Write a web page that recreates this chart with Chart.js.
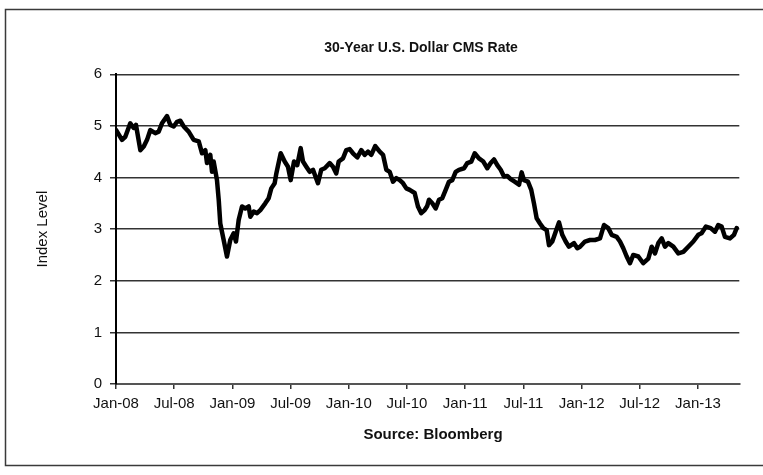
<!DOCTYPE html>
<html><head><meta charset="utf-8">
<script src="https://cdn.jsdelivr.net/npm/chart.js@4"></script>
<style>html,body{margin:0;padding:0;background:#fff;} canvas{display:block}</style>
</head><body>
<canvas id="c" width="763" height="475"></canvas>
<script>
const chartTitle = '30-Year U.S. Dollar CMS Rate';
const yAxisTitle = 'Index Level';
const sourceNote = 'Source: Bloomberg';
const xTickLabels = ['Jan-08','Jul-08','Jan-09','Jul-09','Jan-10','Jul-10','Jan-11','Jul-11','Jan-12','Jul-12','Jan-13'];
const yTickValues = [0,1,2,3,4,5,6];
const xEndMonth = 64.26;
// months elapsed since 1 Jan 2008
const monthsSinceJan08 = [
 0.00,0.62,0.96,1.47,1.82,2.06,2.51,2.86,3.20,3.54,4.05,4.40,4.74,5.26,5.60,5.95,6.29,6.63,6.98,7.49,
 8.01,8.53,8.87,9.21,9.38,9.72,9.90,10.07,10.41,10.59,10.75,11.10,11.44,11.78,12.13,12.37,12.65,12.99,13.33,13.68,
 13.85,14.20,14.54,14.88,15.39,15.74,16.01,16.36,16.53,16.98,17.39,17.73,18.01,18.35,18.69,19.04,19.28,19.62,19.97,20.31,
 20.82,21.16,21.52,22.03,22.37,22.71,22.96,23.40,23.74,24.09,24.43,24.88,25.29,25.64,25.98,26.32,26.73,27.19,27.53,27.87,
 28.22,28.56,28.90,29.25,29.59,29.93,30.28,30.79,31.13,31.47,31.82,32.09,32.27,32.61,32.96,33.30,33.64,33.99,34.33,34.67,
 35.02,35.36,35.88,36.22,36.63,36.98,37.42,37.87,38.28,38.63,38.97,39.31,39.66,40.00,40.34,40.69,41.10,41.55,41.82,42.06,
 42.47,42.81,43.09,43.37,43.71,44.05,44.40,44.64,44.98,45.33,45.67,46.01,46.36,46.70,47.22,47.56,47.84,48.35,48.87,49.38,
 49.90,50.31,50.75,51.10,51.62,51.96,52.30,52.65,52.99,53.33,53.85,54.36,54.88,55.23,55.57,55.91,56.26,56.60,56.94,57.46,
 57.97,58.49,59.00,59.52,60.03,60.37,60.82,61.31,61.75,62.09,62.44,62.78,63.30,63.71,63.99
];
const cmsRate = [
 4.92,4.73,4.79,5.05,4.96,5.02,4.53,4.60,4.73,4.92,4.86,4.89,5.05,5.19,5.02,4.99,5.08,5.10,4.99,4.89,
 4.73,4.70,4.47,4.53,4.28,4.44,4.11,4.31,3.95,3.57,3.11,2.79,2.47,2.79,2.92,2.76,3.18,3.44,3.40,3.44,
 3.24,3.34,3.31,3.37,3.50,3.60,3.79,3.89,4.08,4.47,4.31,4.21,3.95,4.31,4.24,4.57,4.31,4.21,4.11,4.15,
 3.89,4.15,4.18,4.28,4.21,4.08,4.31,4.37,4.53,4.55,4.47,4.39,4.53,4.44,4.50,4.44,4.61,4.50,4.44,4.15,
 4.11,3.92,3.99,3.95,3.89,3.79,3.76,3.70,3.44,3.31,3.37,3.45,3.57,3.50,3.40,3.57,3.60,3.76,3.92,3.95,
 4.11,4.15,4.18,4.28,4.31,4.47,4.37,4.31,4.18,4.28,4.35,4.24,4.15,4.02,4.03,3.97,3.92,3.86,4.10,3.95,
 3.92,3.76,3.50,3.21,3.11,3.02,2.98,2.69,2.76,2.95,3.13,2.89,2.76,2.66,2.73,2.63,2.66,2.76,2.79,2.79,
 2.82,3.08,3.02,2.89,2.85,2.76,2.63,2.47,2.34,2.50,2.47,2.34,2.43,2.66,2.53,2.73,2.82,2.66,2.73,2.66,
 2.53,2.56,2.66,2.76,2.89,2.92,3.05,3.02,2.95,3.08,3.05,2.85,2.82,2.89,3.02
];

const FONT = '"Liberation Sans", Arial, sans-serif';

const framePlugin = {
  id: 'frame',
  beforeDraw(chart) {
    const c = chart.ctx;
    c.save();
    c.fillStyle = '#fff';
    c.fillRect(0, 0, chart.width, chart.height);
    c.strokeStyle = '#3a3a3a';
    c.lineWidth = 1.5;
    c.strokeRect(5.5, 9.5, 770, 456);
    c.restore();
  },
  afterDraw(chart) {
    const c = chart.ctx;
    c.save();
    c.fillStyle = '#111';
    c.textAlign = 'center';
    c.textBaseline = 'middle';
    c.font = 'bold 14px ' + FONT;
    c.fillText(chartTitle, 421, 48);
    c.font = 'bold 15px ' + FONT;
    c.fillText(sourceNote, 433, 435);
    c.restore();
  }
};

new Chart(document.getElementById('c'), {
  type: 'line',
  data: {
    datasets: [{
      data: monthsSinceJan08.map((m, i) => ({ x: m, y: cmsRate[i] })),
      borderColor: '#000',
      borderWidth: 4.5,
      pointRadius: 0,
      tension: 0,
      fill: false,
      borderJoinStyle: 'round',
      borderCapStyle: 'round'
    }]
  },
  options: {
    responsive: false,
    animation: false,
    devicePixelRatio: 1,
    layout: { padding: { top: 74.3, left: 0, right: 23.7, bottom: 0 } },
    plugins: { legend: { display: false }, tooltip: { enabled: false }, title: { display: false } },
    scales: {
      x: {
        type: 'linear', min: 0, max: xEndMonth,
        afterBuildTicks: s => { s.ticks = xTickLabels.map((_, i) => ({ value: i * 6 })); },
        afterFit: s => { s.height = 91; },
        ticks: {
          autoSkip: false, maxRotation: 0, padding: 6, color: '#111',
          font: { family: FONT, size: 15 },
          callback: (v, i) => xTickLabels[i]
        },
        grid: { drawOnChartArea: false, drawTicks: true, tickLength: 5, color: '#333', lineWidth: 1.5 },
        border: { color: '#555', width: 2 },
        title: { display: false }
      },
      y: {
        min: 0, max: 6,
        afterBuildTicks: s => { s.ticks = yTickValues.map(v => ({ value: v })); },
        afterFit: s => { s.width = 116; },
        ticks: { padding: 8, color: '#111', font: { family: FONT, size: 15 } },
        grid: { color: '#333', lineWidth: 1.5, tickLength: 6 },
        border: { color: '#000', width: 2 },
        title: { display: true, text: yAxisTitle, color: '#111', font: { family: FONT, size: 15 }, padding: { top: 34, bottom: 0 } }
      }
    }
  },
  plugins: [framePlugin]
});
</script>
</body></html>
